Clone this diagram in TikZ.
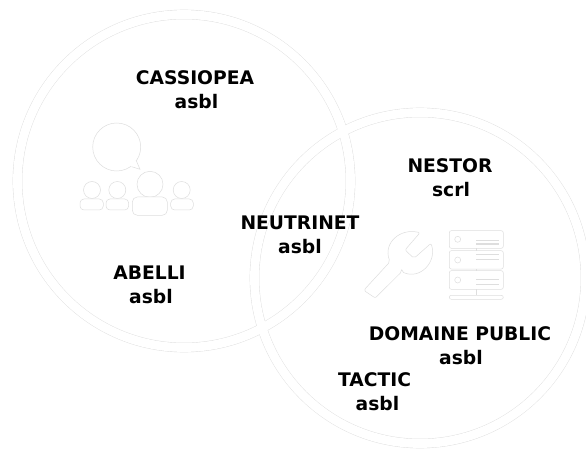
\documentclass[tikz,border=0pt]{standalone}
\usepackage{fontspec}
\setmainfont{DejaVu Sans}
\definecolor{rim}{gray}{0.87}
\tikzset{
  lbl/.style={font=\fontsize{18.7}{24}\selectfont\bfseries, align=center, inner sep=0pt, text=black},
  ringrim/.style={draw=rim, line width=9.6pt},
  ringfill/.style={draw=white, line width=8.8pt},
  icon/.style={draw=rim, line width=0.5pt, fill=white, rounded corners=2pt}
}
\begin{document}
\begin{tikzpicture}[x=1pt,y=-1pt]
\useasboundingbox[fill=white] (0,0) rectangle (586,449);
% rings
\draw[ringrim] (184,181) circle[radius=166.5];
\draw[ringrim] (420,278) circle[radius=165.5];
\draw[ringfill] (184,181) circle[radius=166.5];
\draw[ringfill] (420,278) circle[radius=165.5];
% people icon
\draw[icon] (116.7,147) circle[radius=24];
\fill[white] (136,160) -- (140,169.3) -- (131.7,166.7) -- (128,160) -- cycle;
\draw[rim,line width=0.5pt] (136,160) -- (140,169.3) -- (131.7,166.7);
\foreach \x in {92,117.3,181.7}{\draw[icon] (\x,190) circle[radius=8.5];}
\draw[icon] (150,184.3) circle[radius=13];
\draw[icon,rounded corners=4pt] (80,210) -- (80,199) -- (103.3,199) -- (103.3,210) -- cycle;
\draw[icon,rounded corners=4pt] (106,210) -- (106,199) -- (128.7,199) -- (128.7,210) -- cycle;
\draw[icon,rounded corners=4pt] (170.7,210) -- (170.7,199) -- (193.3,199) -- (193.3,210) -- cycle;
\draw[icon,rounded corners=5pt] (132.3,215.3) -- (132.3,197) -- (167.3,197) -- (167.3,215.3) -- cycle;
% wrench icon
\draw[icon] (401.7,271.7) -- (375,298.3) to[out=135,in=-45,looseness=1] (364,290) -- (390,261.7)
  .. controls (383,243) and (400,228) .. (420,232.7) -- (405,250) -- (414,258.3) -- (431,243.3)
  .. controls (437,262) and (420,280) .. (401.7,271.7) -- cycle;
% server icon
\draw[icon] (449.3,230.7) rectangle (503.3,248.3);
\draw[icon] (449.3,250.7) rectangle (503.3,269);
\draw[icon] (449.3,270.7) rectangle (503.3,289.3);
\draw[icon] (449.3,295.3) rectangle (503.3,299.3);
\draw[icon] (476,289.3) -- (476,295.3);
\draw[icon] (476,248.3) -- (476,250.7);
\draw[icon] (476,269) -- (476,270.7);
\foreach \y in {239.3,260,280}{\draw[icon] (457.7,\y) circle[radius=3];}
\foreach \y/\w in {240/0.5,244/1.2,254.5/0.5,259/0.8,279.5/0.5,284/0.8}{\draw[rim,line width=\w pt] (476,\y) -- (499,\y);}
% labels
\node[lbl] (cassiopea) at (195,89.5) {CASSIOPEA\\\hspace*{3pt}asbl};
\node[lbl] (nestor) at (450,178) {NESTOR\\\hspace*{2pt}scrl};
\node[lbl] (neutrinet) at (300,235) {NEUTRINET\\asbl};
\node[lbl] (abelli) at (149.5,285) {ABELLI\\\hspace*{3pt}asbl};
\node[lbl] (domaine) at (460,345.5) {DOMAINE PUBLIC\\\hspace*{2pt}asbl};
\node[lbl] (tactic) at (374.5,392) {TACTIC\\\hspace*{6pt}asbl};
\end{tikzpicture}
\end{document}
